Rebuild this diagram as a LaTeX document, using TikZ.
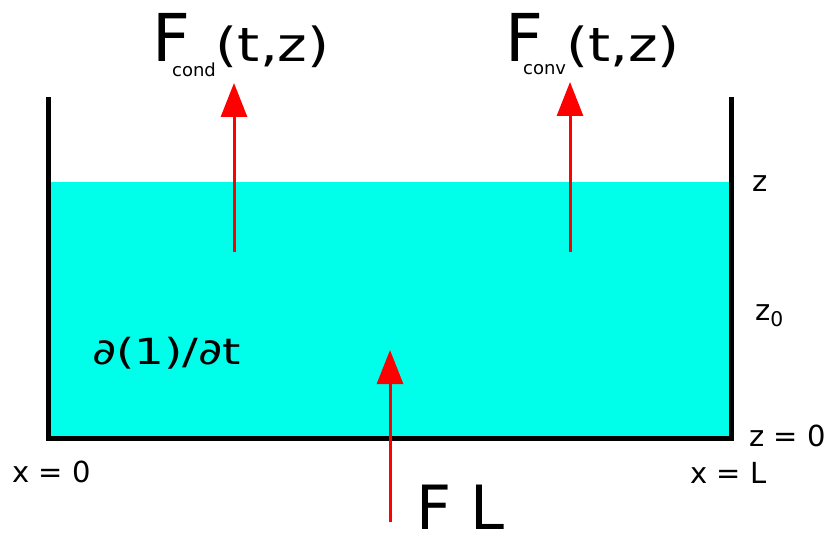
\documentclass[tikz,border=0pt]{standalone}
\usepackage{fontspec}
\setmainfont{DejaVu Sans}
\usetikzlibrary{arrows.meta}

\definecolor{water}{RGB}{0,255,234}

\begin{document}
\begin{tikzpicture}[x=1pt, y=-1pt,
      wall/.style={line width=5pt, line cap=rect},
      flux/.style={red, line width=3pt,
                   -{Triangle[width=26pt, length=34pt]}},
      lbl/.style={inner sep=0pt, anchor=base west, font=\fontsize{29}{29}\selectfont},
      big/.style={inner sep=0pt, anchor=base west}]
    \useasboundingbox (0,0) rectangle (827,540);
    % liquid and tank
    \fill[water] (48,182) rectangle (731,438);
    \draw[wall] (48,100) -- (48,438) -- (731,438) -- (731,100);
    % fluxes
    \node[big] (fcond) at (152,62) {\fontsize{66}{66}\selectfont F\kern-18pt
      \raisebox{-15pt}{\fontsize{18}{18}\selectfont cond}%
      \scalebox{1.2}[1]{\fontsize{47}{47}\selectfont(t,z)}};
    \node[big] (fconv) at (505,62) {\fontsize{66}{66}\selectfont F\kern-20pt
      \raisebox{-13pt}{\fontsize{18}{18}\selectfont conv}%
      \scalebox{1.2}[1]{\fontsize{47}{47}\selectfont(t,z)}};
    \node[big] (fl) at (416,529) {\fontsize{61}{61}\selectfont F L};
    \coordinate (cond0) at (234,252);
    \coordinate (cond1) at (234,83);
    \coordinate (conv0) at (570,252);
    \coordinate (conv1) at (570,82);
    \coordinate (fl0) at (390,522);
    \coordinate (fl1) at (390,350);
    \draw[flux] (cond0) -- (cond1);
    \draw[flux] (conv0) -- (conv1);
    \draw[flux] (fl0) -- (fl1);
    % labels
    \node[lbl] (dt) at (92,364) {\scalebox{1.3}[1]{\fontsize{36}{36}\selectfont ∂(1)/∂t}};
    \node[lbl] (ztop) at (752,192) {z};
    \node[lbl] (zmid) at (755,320) {z\textsubscript{0}};
    \node[lbl] (zbot) at (749,446) {z = 0};
    \node[lbl] (xl) at (690,483) {x = L};
    \node[lbl] (x0) at (12,482) {x = 0};
  \end{tikzpicture}
\end{document}
